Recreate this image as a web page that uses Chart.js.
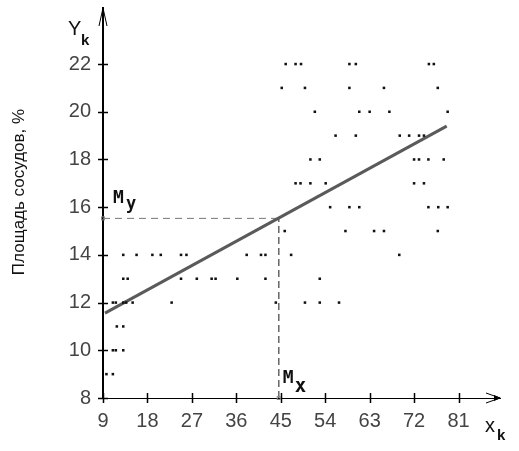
<!DOCTYPE html>
<html>
<head>
<meta charset="utf-8">
<script src="https://cdn.jsdelivr.net/npm/chart.js@4/dist/chart.umd.min.js"></script>
<style>
  html, body { margin: 0; padding: 0; background: #fff; }
  #wrap { width: 519px; height: 451px; }
</style>
</head>
<body>
<div id="wrap"><canvas id="chart"></canvas></div>
<script>
// tick labels
const xTicks = [9, 18, 27, 36, 45, 54, 63, 72, 81];
const yTicks = [8, 10, 12, 14, 16, 18, 20, 22];
const yTitle = "Площадь сосудов, %";

// scatter points (x_k, y_k)
const pointX = [
  46.0, 48.0, 49.1, 58.9, 60.2, 75.0, 76.0,
  45.2, 49.9, 58.9, 65.9, 76.8,
  51.9, 60.9, 63.0, 67.0, 78.8,
  56.1, 60.2, 69.1, 71.0, 73.0, 74.0,
  51.0, 52.9, 72.0, 73.0, 74.9, 78.0,
  48.0, 49.0, 51.0, 54.1, 72.0, 74.0,
  55.0, 58.9, 60.9, 74.9, 76.9, 78.8,
  45.8, 58.1, 63.9, 65.9, 76.8,
  13.1, 15.8, 19.0, 20.7, 24.8, 25.9, 38.1, 41.0, 41.9, 47.1, 69.0,
  13.1, 14.0, 24.8, 28.0, 31.0, 31.8, 36.2, 41.9, 52.9,
  11.0, 11.6, 13.1, 13.7, 15.0, 22.9, 44.0, 49.9, 52.9, 56.8,
  11.8, 13.1,
  11.0, 11.6, 13.1,
  9.7, 11.0
];
const pointY = [
  22, 22, 22, 22, 22, 22, 22,
  21, 21, 21, 21, 21,
  20, 20, 20, 20, 20,
  19, 19, 19, 19, 19, 19,
  18, 18, 18, 18, 18, 18,
  17, 17, 17, 17, 17, 17,
  16, 16, 16, 16, 16, 16,
  15, 15, 15, 15, 15,
  14, 14, 14, 14, 14, 14, 14, 14, 14, 14, 14,
  13, 13, 13, 13, 13, 13, 13, 13, 13,
  12, 12, 12, 12, 12, 12, 12, 12, 12, 12,
  11, 11,
  10, 10, 10,
  9, 9
];

// regression line ends and the means
const lineX = [9.4, 78.6];
const lineY = [11.56, 19.4];
const meanX = 44.6;
const meanY = 15.53;

const xMin = 9, xMax = 89.4;
const yMin = 8, yMax = 24.35;

const tickFont = { family: "'Liberation Sans', Arial, sans-serif", size: 20 };

const points = pointX.map((v, i) => ({ x: v, y: pointY[i] }));
const regLine = lineX.map((v, i) => ({ x: v, y: lineY[i] }));

function line(ctx, x1, y1, x2, y2) {
  ctx.beginPath();
  ctx.moveTo(x1, y1);
  ctx.lineTo(x2, y2);
  ctx.stroke();
}

// tick marks across the axes, arrows, axis title and the letter labels
const axisExtras = {
  id: "axisExtras",
  afterDraw(chart) {
    const ctx = chart.ctx;
    const a = chart.chartArea;
    const xs = chart.scales.x, ys = chart.scales.y;
    ctx.save();
    ctx.strokeStyle = "#000";
    ctx.lineWidth = 1.5;
    xs.ticks.forEach((t) => {
      const px = Math.round(xs.getPixelForValue(t.value)) + 0.5;
      line(ctx, px, a.bottom - 5, px, a.bottom + 5);
    });
    ys.ticks.forEach((t) => {
      const py = Math.round(ys.getPixelForValue(t.value)) + 0.5;
      line(ctx, a.left - 5, py, a.left + 5, py);
    });

    // arrow on y
    ctx.lineWidth = 1;
    line(ctx, a.left, a.top, a.left - 4, a.top + 18);
    line(ctx, a.left, a.top, a.left + 4, a.top + 18);
    // arrow on x
    line(ctx, a.right, a.bottom, a.right - 14, a.bottom - 5);
    line(ctx, a.right, a.bottom, a.right - 14, a.bottom + 5);
    ctx.fillStyle = "#000";
    ctx.beginPath();
    ctx.moveTo(a.right + 1, a.bottom);
    ctx.lineTo(a.right - 6, a.bottom - 3);
    ctx.lineTo(a.right - 6, a.bottom + 3);
    ctx.closePath();
    ctx.fill();

    // small markers where the dashed lines meet the axes
    ctx.strokeStyle = "#888";
    ctx.lineWidth = 1;
    const mxp = xs.getPixelForValue(meanX), myp = ys.getPixelForValue(meanY);
    ctx.strokeRect(mxp - 1.5, a.bottom - 1.5, 3, 3);
    ctx.strokeRect(a.left - 1.5, myp - 1.5, 3, 3);

    // axis title
    ctx.save();
    ctx.translate(24, 192);
    ctx.rotate(-Math.PI / 2);
    ctx.textAlign = "center";
    ctx.textBaseline = "alphabetic";
    ctx.fillStyle = "#111";
    ctx.font = "17px 'Liberation Sans', Arial, sans-serif";
    ctx.fillText(yTitle, 0, 0);
    ctx.restore();

    // letters
    ctx.fillStyle = "#111";
    ctx.textBaseline = "alphabetic";
    ctx.textAlign = "left";
    ctx.font = "20px 'Liberation Sans', sans-serif";
    ctx.fillText("Y", a.left - 35, a.top + 27);
    ctx.fillText("x", a.right - 15, a.bottom + 34);
    ctx.font = "bold 15px 'Liberation Sans', sans-serif";
    ctx.fillText("k", a.left - 22, a.top + 37);
    ctx.fillText("k", a.right - 3, a.bottom + 42);

    ctx.font = "bold 18px 'DejaVu Sans Mono', monospace";
    ctx.fillText("M", a.left + 10, myp - 15);
    ctx.fillText("M", mxp + 4, a.bottom - 15);
    ctx.font = "bold 17px 'DejaVu Sans Mono', monospace";
    ctx.fillText("y", a.left + 23, myp - 9);
    ctx.font = "bold 19px 'DejaVu Sans Mono', monospace";
    ctx.fillText("x", mxp + 16, a.bottom - 6);
    ctx.restore();
  }
};

new Chart(document.getElementById("chart"), {
  type: "scatter",
  data: {
    datasets: [
      {
        label: "points",
        data: points,
        pointStyle: "rect",
        pointRadius: 1.8,
        pointBorderWidth: 0,
        backgroundColor: "#111",
        borderColor: "#111"
      },
      {
        label: "regression",
        data: regLine,
        showLine: true,
        pointRadius: 0,
        borderColor: "#5a5a5a",
        borderWidth: 3
      },
      {
        label: "My",
        data: [{ x: xMin, y: meanY }, { x: meanX, y: meanY }],
        showLine: true,
        pointRadius: 0,
        borderColor: "#777",
        borderWidth: 1,
        borderDash: [7, 5]
      },
      {
        label: "Mx",
        data: [{ x: meanX, y: yMin }, { x: meanX, y: meanY }],
        showLine: true,
        pointRadius: 0,
        borderColor: "#666",
        borderWidth: 1.5,
        borderDash: [7, 4]
      }
    ]
  },
  options: {
    responsive: true,
    maintainAspectRatio: false,
    animation: false,
    layout: { padding: { top: 8, right: 19, left: 0, bottom: 0 } },
    plugins: {
      legend: { display: false },
      tooltip: { enabled: false }
    },
    scales: {
      x: {
        type: "linear",
        min: xMin,
        max: xMax,
        afterBuildTicks: (s) => { s.ticks = xTicks.map((v) => ({ value: v })); },
        afterFit: (s) => { s.height = 53; },
        grid: { display: false, drawTicks: false },
        border: { display: true, color: "#000", width: 1 },
        ticks: { font: tickFont, color: "#444", padding: 11, maxRotation: 0 }
      },
      y: {
        type: "linear",
        min: yMin,
        max: yMax,
        afterBuildTicks: (s) => { s.ticks = yTicks.map((v) => ({ value: v })); },
        afterFit: (s) => { s.width = 103; s.paddingTop = 0; s.paddingBottom = 0; },
        grid: { display: false, drawTicks: false },
        border: { display: true, color: "#000", width: 2 },
        ticks: { font: tickFont, color: "#444", padding: 12 }
      }
    }
  },
  plugins: [axisExtras]
});
</script>
</body>
</html>
